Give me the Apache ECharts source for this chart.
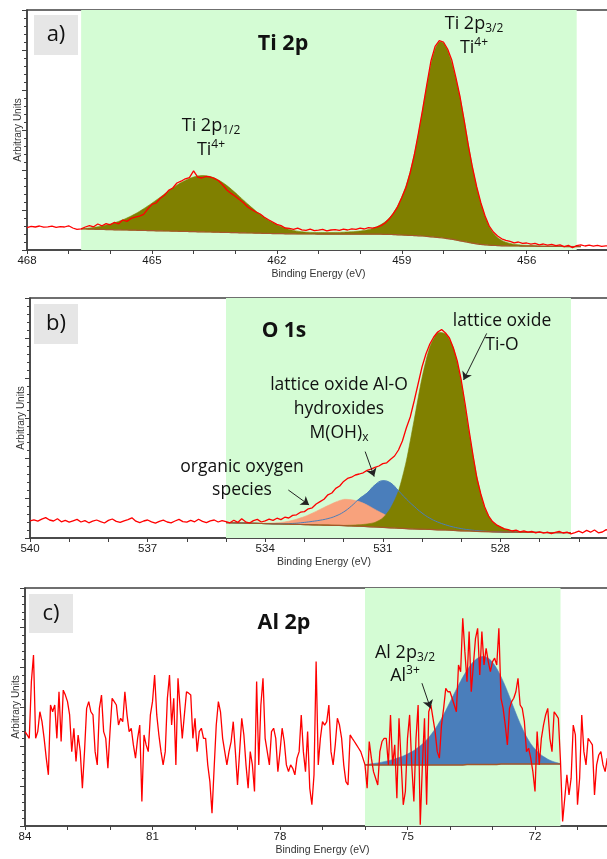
<!DOCTYPE html>
<html>
<head>
<meta charset="utf-8">
<title>XPS Ti 2p / O 1s / Al 2p</title>
<script src="https://cdn.jsdelivr.net/npm/echarts@6/dist/echarts.min.js"></script>
<style>
    html, body { margin: 0; padding: 0; background: #fff; }
    #container { width: 607px; height: 859px; }
</style>
</head>
<body>
<div id="container"></div>
<script>
// a) Ti 2p 原始谱，468.0 eV 起，步长 0.1 eV
var tiStart = 468.0, tiStep = 0.1;
var tiRaw = [
    11.2, 11.8, 11.5, 12.0, 11.4, 11.6, 11.9, 11.3, 11.7, 11.5,
    12.1, 11.0, 10.3, 10.6, 11.5, 12.2, 11.6, 13.0, 12.1, 13.2,
    12.6, 13.8, 13.1, 15.0, 14.3, 15.8, 16.4, 16.9, 17.8, 20.5,
    22.8, 23.5, 25.9, 27.4, 29.8, 31.0, 33.5, 34.4, 35.6, 36.2,
    39.6, 36.4, 36.0, 36.8, 36.5, 35.8, 34.6, 32.5, 30.0, 28.3,
    26.9, 25.2, 23.6, 21.5, 20.2, 19.0, 18.0, 16.4, 15.1, 14.0,
    12.8, 12.2, 11.0, 10.8, 10.3, 10.9, 10.1, 9.8, 10.4, 9.7,
    9.9, 10.3, 9.6, 10.0, 10.2, 9.8, 10.4, 10.0, 10.6, 10.3,
    10.9, 10.5, 11.2, 10.9, 11.4, 12.2, 13.5, 15.6, 18.3, 21.6,
    26.2, 31.2, 38.5, 47.5, 58.5, 70.2, 82.6, 94.5, 101.8, 104.7,
    104.0, 100.5, 95.0, 86.2, 76.5, 64.5, 52.0, 41.0, 31.5, 23.5,
    17.0, 12.0, 9.0, 7.0, 5.6, 4.8, 4.3, 3.6, 4.0, 3.3,
    3.5, 2.9, 3.3, 2.6, 3.0, 2.4, 2.8, 2.2, 2.6, 1.7,
    2.3, 1.2, 2.2, 2.6, 2.0, 2.4, 1.9, 2.3, 1.8, 2.1,
    1.9
];
// a) 拟合：466.7 eV 起，步长 0.1 eV
var tiFitStart = 466.7, tiFitStep = 0.1;
var tiBg = [
    10.5, 10.5, 10.4, 10.4, 10.3, 10.3, 10.2, 10.2,
    10.1, 10.1, 10.0, 10.0, 9.9, 9.9, 9.8, 9.8, 9.7, 9.7,
    9.6, 9.6, 9.5, 9.5, 9.4, 9.4, 9.3, 9.3, 9.2, 9.2,
    9.1, 9.1, 9.0, 9.0, 8.9, 8.9, 8.8, 8.8, 8.7, 8.7,
    8.6, 8.6, 8.5, 8.5, 8.4, 8.4, 8.3, 8.3, 8.2, 8.2,
    8.2, 8.1, 8.1, 8.1, 8.0, 8.0, 8.0, 8.0, 8.0, 7.9,
    7.9, 7.9, 7.9, 7.9, 7.9, 7.9, 7.9, 7.9, 7.9, 7.9,
    7.9, 7.9, 7.9, 7.9, 7.9, 7.8, 7.8, 7.7, 7.6, 7.5,
    7.4, 7.3, 7.2, 7.1, 7.0, 6.8, 6.6, 6.4, 6.2, 6.0,
    5.7, 5.4, 5.0, 4.6, 4.2, 3.8, 3.4, 3.1, 2.8, 2.6,
    2.4, 2.3, 2.2, 2.1, 2.1, 2.0, 2.0, 2.0, 1.9, 1.9,
    1.9, 1.9, 1.8, 1.8, 1.8, 1.8, 1.8, 1.8, 1.7, 1.7,
    1.7, 1.7, 1.7
];
var tiFit = [
    10.6, 10.8, 11.0, 11.3, 11.6, 12.0, 12.5, 13.0,
    13.6, 14.3, 15.1, 16.0, 17.0, 18.1, 19.3, 20.6, 22.0, 23.4,
    24.9, 26.4, 28.0, 29.5, 31.0, 32.4, 33.7, 34.8, 35.8, 36.5,
    37.0, 37.2, 37.1, 36.7, 36.0, 35.0, 33.7, 32.2, 30.5, 28.7,
    26.8, 24.9, 23.0, 21.2, 19.4, 17.8, 16.3, 14.9, 13.7, 12.6,
    11.7, 10.9, 10.3, 9.8, 9.4, 9.1, 8.9, 8.8, 8.7, 8.7,
    8.7, 8.7, 8.7, 8.8, 8.8, 8.9, 9.0, 9.1, 9.3, 9.5,
    9.8, 10.2, 10.8, 11.6, 12.7, 14.1, 16.0, 18.6, 22.0, 26.5,
    32.0, 39.0, 47.6, 58.0, 69.8, 81.8, 92.8, 100.5, 104.0, 103.5,
    99.8, 93.5, 85.5, 76.0, 64.8, 52.6, 41.0, 31.2, 23.2, 16.8,
    11.8, 8.4, 6.2, 4.8, 3.9, 3.3, 2.9, 2.6, 2.4, 2.3,
    2.2, 2.1, 2.0, 2.0, 1.9, 1.9, 1.9, 1.8, 1.8, 1.8,
    1.8, 1.7, 1.7
];

// b) O 1s 原始谱，540.0 eV 起，步长 0.1 eV
var oStart = 540.0, oStep = 0.1;
var oRaw = [
    8.6, 9.1, 8.4, 9.4, 10.2, 9.0, 8.5, 9.6, 8.1, 8.8,
    7.9, 8.6, 9.3, 8.0, 8.7, 7.6, 8.4, 9.0, 8.2, 7.5,
    8.8, 9.5, 8.3, 7.8, 8.6, 9.2, 10.1, 8.4, 7.7, 8.5,
    9.0, 8.1, 7.4, 8.3, 8.9, 8.0, 7.6, 8.5, 9.3, 8.2,
    7.9, 8.8, 8.1, 9.4, 8.3, 7.7, 8.6, 9.0, 8.0, 8.7,
    8.2, 7.6, 8.9, 7.8, 9.6, 8.1, 7.5, 8.7, 9.3, 8.0,
    8.6, 9.4, 8.8, 9.9, 9.2, 10.4, 10.0, 11.3, 11.6, 12.9,
    13.2, 14.6, 15.1, 17.0, 18.2, 19.4, 21.6, 22.5, 24.8, 26.0,
    28.3, 29.8, 30.4, 31.5, 32.0, 32.6, 33.8, 34.4, 35.3, 36.0,
    37.2, 37.6, 39.4, 41.0, 44.0, 48.5, 55.0, 60.5, 68.5, 77.0,
    85.5, 92.0, 97.0, 100.5, 103.0, 104.2, 102.5, 100.0, 95.0, 88.5,
    79.0, 67.0, 54.0, 41.5, 30.0, 22.0, 15.5, 11.0, 8.2, 6.6,
    5.6, 4.6, 4.2, 3.5, 3.9, 3.1, 3.6, 2.9, 3.3, 2.6,
    3.1, 2.4, 2.9, 2.2, 2.8, 3.3, 2.5, 2.9, 2.1, 2.7,
    3.4, 2.6, 3.8, 2.9, 4.0, 2.6, 3.0, 4.2, 3.1
];
// b) 拟合分量：535.0 eV 起，步长 0.2 eV
var oFitStart = 535.0, oFitStep = 0.2;
var oBg = [
    7.7, 7.6, 7.5, 7.4, 7.3, 7.2, 7.1, 7.0, 6.9, 6.8,
    6.7, 6.6, 6.5, 6.4, 6.3, 6.2, 6.0, 5.9, 5.7, 5.5,
    5.3, 5.1, 4.9, 4.7, 4.5, 4.4, 4.3, 4.1, 4.0, 3.8,
    3.6, 3.5, 3.3, 3.2, 3.1, 3.0, 2.9, 2.9, 2.8, 2.8,
    2.8, 2.7, 2.7, 2.7, 2.7
];
var oOrganic = [
    7.7, 7.6, 7.5, 7.4, 7.4, 7.4, 7.5, 7.8, 8.4, 9.4,
    10.7, 12.4, 14.3, 16.2, 18.0, 19.3, 19.1, 18.2, 16.5, 14.3,
    12.2, 10.3, 8.8, 7.6, 6.7, 6.0, 5.5, 5.0, 4.6, 4.2,
    3.9, 3.7, 3.5, 3.3, 3.2, 3.0, 2.9, 2.9, 2.8, 2.8,
    2.8, 2.7, 2.7, 2.7, 2.7
];
var oHydroxide = [
    7.7, 7.6, 7.5, 7.4, 7.3, 7.2, 7.1, 7.1, 7.2, 7.4,
    7.8, 8.3, 8.9, 9.7, 11.0, 13.0, 16.0, 19.6, 22.5, 26.5,
    28.6, 27.5, 23.6, 19.5, 15.8, 12.5, 9.9, 8.0, 6.6, 5.5,
    4.7, 4.1, 3.7, 3.4, 3.2, 3.0, 2.9, 2.9, 2.8, 2.8,
    2.8, 2.7, 2.7, 2.7, 2.7
];
var oLattice = [
    7.7, 7.6, 7.5, 7.4, 7.3, 7.2, 7.1, 7.0, 6.9, 6.8,
    6.7, 6.6, 6.5, 6.4, 6.3, 6.3, 6.4, 6.6, 7.0, 7.8,
    10.0, 15.0, 23.5, 38.5, 59.0, 80.0, 95.5, 102.5, 102.0, 95.0,
    78.0, 53.0, 30.5, 15.0, 8.0, 5.5, 4.0, 3.4, 3.1, 2.9,
    2.8, 2.7, 2.7, 2.7, 2.7
];

// c) Al 2p 原始谱，84.00 eV 起，步长 0.05 eV
var alStart = 84.0, alStep = 0.05;
var alRaw = [
    47.6, 45.9, 44.2, 72.8, 86.2, 44.2, 47.6, 57.6, 52.6, 44.2,
    34.2, 25.8, 61.0, 57.6, 61.0, 44.2, 67.7, 42.6, 68.5, 66.0,
    62.7, 56.0, 37.5, 49.3, 32.5, 45.9, 37.5, 19.1, 37.5, 59.3,
    62.7, 57.6, 56.0, 37.5, 30.8, 59.3, 66.0, 47.6, 44.2, 29.1,
    47.6, 64.4, 62.7, 61.0, 50.9, 54.3, 52.6, 67.7, 56.0, 47.6,
    49.3, 40.9, 34.2, 44.2, 50.9, 12.4, 45.9, 40.9, 37.5, 56.0,
    62.7, 76.1, 56.0, 45.9, 37.5, 30.8, 37.5, 64.4, 76.1, 50.9,
    64.4, 30.8, 74.5, 59.3, 44.2, 56.0, 67.7, 67.0, 66.0, 44.2,
    54.3, 37.5, 47.6, 49.3, 44.2, 44.2, 30.8, 22.4, 6.5, 29.1,
    50.9, 62.7, 57.6, 44.2, 37.5, 30.8, 37.5, 42.6, 52.6, 37.5,
    20.7, 37.5, 54.3, 45.9, 30.8, 19.1, 37.5, 30.8, 17.4, 72.8,
    30.8, 61.0, 74.5, 44.2, 37.5, 30.8, 47.6, 49.3, 44.2, 27.4,
    37.5, 49.3, 42.6, 30.8, 27.4, 30.8, 29.1, 25.8, 34.2, 37.5,
    56.0, 37.5, 27.4, 47.6, 19.1, 10.7, 25.8, 82.9, 30.8, 44.2,
    52.6, 50.9, 52.6, 61.0, 37.5, 30.8, 40.9, 54.3, 50.9, 44.2,
    30.8, 22.4, 20.7, 45.9, 44.2, 42.6, 40.9, 39.2, 37.5, 34.2,
    30.8, 19.1, 42.6, 34.2, 27.4, 24.1, 20.7, 37.5, 42.6, 44.2,
    44.2, 30.8, 56.0, 30.8, 40.9, 14.0, 54.3, 32.5, 10.7, 17.4,
    44.2, 56.0, 30.8, 12.4, 44.2, 61.0, 0.6, 30.8, 54.3, 10.7,
    57.6, 61.0, 54.3, 47.6, 37.5, 34.2, 50.9, 59.3, 69.4, 67.7,
    67.7, 64.4, 61.0, 57.6, 81.2, 77.8, 104.7, 87.9, 72.8, 98.0,
    67.7, 81.2, 94.6, 99.7, 76.1, 98.0, 81.2, 89.6, 82.9, 77.8,
    82.9, 84.6, 81.2, 99.7, 64.4, 59.3, 50.9, 40.9, 59.3, 62.7,
    64.4, 67.7, 74.5, 61.0, 59.3, 52.6, 37.5, 39.2, 34.2, 27.4,
    17.4, 47.6, 30.8, 44.2, 50.9, 56.0, 59.3, 44.2, 37.5, 57.6,
    56.0, 54.3, 32.5, 2.3, 14.0, 25.8, 15.7, 24.1, 50.9, 45.9,
    10.7, 24.1, 56.0, 37.5, 30.8, 44.2, 42.6, 40.9, 15.7, 30.8,
    35.8, 37.5, 30.8, 27.4, 34.2, 15.7
];
// c) 拟合：76.0 eV 起，步长 0.1 eV
var alFitStart = 76.0, alFitStep = 0.1;
var alBg = [
    30.8, 30.8, 30.8, 30.8, 30.8, 30.8, 30.8, 30.8, 30.8, 30.8,
    30.8, 30.8, 30.8, 30.8, 30.8, 30.8, 30.8, 30.8, 30.8, 30.8,
    30.8, 30.8, 30.8, 30.8, 31.0, 31.0, 31.0, 31.0, 31.0, 31.0,
    31.0, 31.0, 31.2, 31.2, 31.2, 31.2, 31.2, 31.2, 31.2, 31.2,
    31.2, 31.2, 31.2, 31.2, 31.2, 31.2, 31.2
];
var alPeak = [
    30.9, 31.2, 31.5, 31.8, 32.2, 32.7, 33.2, 33.8, 34.5, 35.3,
    36.3, 37.4, 38.8, 40.4, 42.3, 44.6, 47.4, 50.6, 54.2, 58.2,
    62.5, 66.8, 71.0, 75.0, 78.5, 81.6, 83.8, 85.2, 85.5, 84.6,
    82.6, 79.4, 75.3, 70.5, 65.2, 59.6, 54.2, 49.3, 45.0, 41.5,
    38.8, 36.6, 35.0, 33.7, 32.7, 32.0, 31.4
];

// 绿色拟合区间 [起, 止] eV
var bandA = [466.7, 454.8];
var bandB = [535.0, 526.2];
var bandC = [76.0, 71.4];
// 箭头 [x1, y1, x2, y2]（数据坐标）
var arrowsB = [
    [528.35, 102.3, 528.94, 79.0],
    [531.45, 43.2, 531.22, 30.7],
    [533.41, 24.0, 532.88, 16.5]
];
var arrowsC = [
    [74.66, 72.0, 74.46, 59.4]
];

var RED = '#ff0000',
    OLIVE = '#808000',
    BLUE = '#4a7ebb',
    SALMON = '#f8a27c',
    BROWN = '#a5572a',
    GREEN = '#d4fcd4',
    AXIS = '#404040';
var annFont = 'Open Sans';

function pts(start, step, vals) {
    var out = [];
    for (var i = 0; i < vals.length; i++) {
        out.push([+(start - step * i).toFixed(2), vals[i]]);
    }
    return out;
}
// 背景与分量之间的填充（custom + api.coord）
function fillBetween(k, start, step, top, base, color) {
    var data = [];
    for (var i = 0; i < top.length; i++) {
        data.push([+(start - step * i).toFixed(2), base[i], top[i]]);
    }
    return {
        type: 'custom', xAxisIndex: k, yAxisIndex: k, data: data,
        clip: true, silent: true,
        encode: { x: 0, y: [1, 2] },
        renderItem: function (params, api) {
            if (params.dataIndex !== 0) {
                return;
            }
            var upper = [], lower = [];
            for (var j = 0; j < data.length; j++) {
                upper.push(api.coord([data[j][0], data[j][2]]));
                lower.unshift(api.coord([data[j][0], data[j][1]]));
            }
            return {
                type: 'polygon',
                shape: { points: upper.concat(lower), smooth: 0.25 },
                style: { fill: color, stroke: color, lineWidth: 0.6 }
            };
        }
    };
}
function lineSeries(k, data, color, width, smooth, band) {
    var s = {
        type: 'line', xAxisIndex: k, yAxisIndex: k, data: data,
        symbol: 'none', smooth: smooth, silent: true,
        lineStyle: { color: color, width: width }
    };
    if (band) {
        s.markArea = {
            silent: true,
            itemStyle: { color: GREEN },
            data: [[{ xAxis: band[0] }, { xAxis: band[1] }]]
        };
    }
    return s;
}
function arrowMark(list) {
    var d = [];
    for (var i = 0; i < list.length; i++) {
        d.push([{ coord: [list[i][0], list[i][1]] }, { coord: [list[i][2], list[i][3]] }]);
    }
    return {
        silent: true,
        symbol: ['none', 'arrow'],
        symbolSize: 8,
        lineStyle: { color: '#222', width: 1, type: 'solid' },
        label: { show: false },
        data: d
    };
}
function xAxisOf(k, min, max) {
    return {
        gridIndex: k, type: 'value', inverse: true, min: min, max: max, interval: 1,
        axisLine: { onZero: false, lineStyle: { color: AXIS, width: 1.5 } },
        axisTick: { length: 4, lineStyle: { color: AXIS } },
        axisLabel: {
            margin: 5, color: '#1a1a1a', fontSize: 11.5, fontFamily: 'Liberation Sans',
            formatter: function (v) {
                return Math.round(v) % 3 === 0 ? String(Math.round(v)) : '';
            }
        },
        splitLine: { show: false },
        name: 'Binding Energy (eV)', nameLocation: 'middle', nameGap: 19,
        nameTextStyle: { fontSize: 10.5, color: '#333', fontFamily: 'Liberation Sans' }
    };
}
function yAxisOf(k) {
    return {
        gridIndex: k, type: 'value', min: 0, max: 120, interval: 20,
        axisLine: { show: true, onZero: false, lineStyle: { color: AXIS, width: 1.5 } },
        axisTick: { show: true, length: 5, lineStyle: { color: AXIS } },
        minorTick: { show: true, splitNumber: 5, length: 3, lineStyle: { color: AXIS } },
        axisLabel: { show: false },
        splitLine: { show: false },
        name: 'Arbitrary Units', nameLocation: 'middle', nameGap: 4,
        nameTextStyle: { fontSize: 10, color: '#333', fontFamily: 'Liberation Sans' }
    };
}
var rich = {
    sub: { fontSize: 12, lineHeight: 12, verticalAlign: 'bottom', fontFamily: annFont, fill: '#111' },
    sup: { fontSize: 12, lineHeight: 12, verticalAlign: 'top', fontFamily: annFont, fill: '#111' }
};
function txt(x, y, text, size, bold) {
    return {
        type: 'text', x: x, y: y, z: 100,
        style: {
            text: text, fontSize: size, fontFamily: annFont,
            fontWeight: bold ? 'bold' : 'normal', fill: '#111',
            align: 'center', verticalAlign: 'middle', lineHeight: 22, rich: rich
        }
    };
}
function tagBox(x, y, w, h, label) {
    return [
        { type: 'rect', shape: { x: x, y: y, width: w, height: h }, style: { fill: '#e6e6e6' }, z: 99 },
        txt(x + w / 2, y + h / 2, label, 22, false)
    ];
}

var container = echarts.init(document.getElementById('container'));

var rawB = lineSeries(1, pts(oStart, oStep, oRaw), RED, 1.3, false);
rawB.markLine = arrowMark(arrowsB);
var rawC = lineSeries(2, pts(alStart, alStep, alRaw), RED, 1.3, false);
rawC.markLine = arrowMark(arrowsC);

var series = [
    // a) Ti 2p
    fillBetween(0, tiFitStart, tiFitStep, tiFit, tiBg, OLIVE),
    lineSeries(0, pts(tiFitStart, tiFitStep, tiBg), BROWN, 1.2, true, bandA),
    lineSeries(0, pts(tiStart, tiStep, tiRaw), RED, 1.3, false),
    // b) O 1s：先蓝，再橙，再橄榄
    fillBetween(1, oFitStart, oFitStep, oHydroxide, oBg, BLUE),
    fillBetween(1, oFitStart, oFitStep, oOrganic, oBg, SALMON),
    fillBetween(1, oFitStart, oFitStep, oLattice, oBg, OLIVE),
    lineSeries(1, pts(oFitStart, oFitStep, oHydroxide), BLUE, 1, true),
    lineSeries(1, pts(oFitStart, oFitStep, oBg), BROWN, 1.2, true, bandB),
    rawB,
    // c) Al 2p
    fillBetween(2, alFitStart, alFitStep, alPeak, alBg, BLUE),
    lineSeries(2, pts(alFitStart, alFitStep, alBg), BROWN, 1.5, false, bandC),
    rawC
];

var graphics = []
    .concat(tagBox(34, 15, 44, 40, 'a)'))
    .concat(tagBox(34, 304, 44, 40, 'b)'))
    .concat(tagBox(29, 594, 44, 39, 'c)'))
    .concat([
        txt(283, 44, 'Ti 2p', 21.5, true),
        txt(474, 24, 'Ti 2p{sub|3/2}', 18, false),
        txt(474, 48, 'Ti{sup|4+}', 18, false),
        txt(211, 126, 'Ti 2p{sub|1/2}', 18, false),
        txt(211, 150, 'Ti{sup|4+}', 18, false),
        txt(284, 331, 'O 1s', 21, true),
        txt(502, 321, 'lattice oxide', 17.5, false),
        txt(502, 345, 'Ti-O', 17.5, false),
        txt(339, 385, 'lattice oxide Al-O', 17.5, false),
        txt(339, 409, 'hydroxides', 17.5, false),
        txt(339, 433, 'M(OH){sub|x}', 17.5, false),
        txt(242, 467, 'organic oxygen', 17.5, false),
        txt(242, 490, 'species', 17.5, false),
        txt(284, 623, 'Al 2p', 21.5, true),
        txt(405, 653, 'Al 2p{sub|3/2}', 18, false),
        txt(405, 676, 'Al{sup|3+}', 18, false)
    ]);

var option = {
    animation: false,
    backgroundColor: '#fff',
    grid: [
        { left: 27, right: -3, top: 10, height: 240, show: true, borderColor: AXIS, borderWidth: 1.5, containLabel: false, outerBoundsMode: 'none' },
        { left: 30, right: -11, top: 298, height: 240, show: true, borderColor: AXIS, borderWidth: 1.5, containLabel: false, outerBoundsMode: 'none' },
        { left: 25, right: -13, top: 588, height: 238, show: true, borderColor: AXIS, borderWidth: 1.5, containLabel: false, outerBoundsMode: 'none' }
    ],
    xAxis: [xAxisOf(0, 454, 468), xAxisOf(1, 525, 540), xAxisOf(2, 70, 84)],
    yAxis: [yAxisOf(0), yAxisOf(1), yAxisOf(2)],
    series: series,
    graphic: graphics
};
container.setOption(option, true);
</script>
</body>
</html>
